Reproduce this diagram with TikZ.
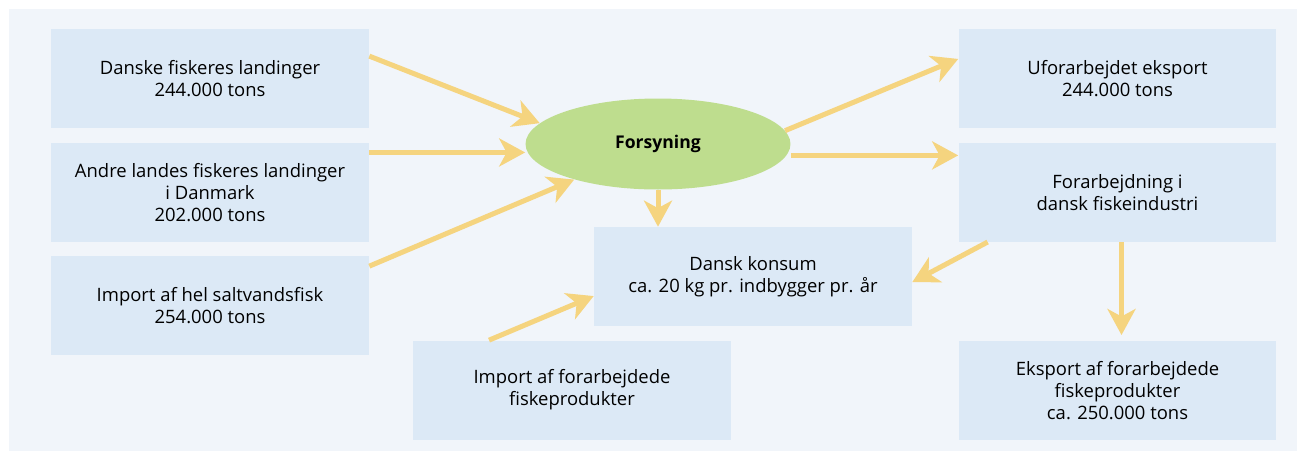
\documentclass[tikz,border=0pt]{standalone}
\usepackage{fontspec}
\setmainfont{Open Sans}
\usetikzlibrary{positioning,arrows.meta,shapes.geometric}
\definecolor{bggray}{HTML}{F1F5FA}
\definecolor{boxblue}{HTML}{DCE9F6}
\definecolor{ovalgreen}{HTML}{BEDD8E}
\definecolor{arrowyellow}{HTML}{F5D47F}
\tikzstyle{boxed} = [rectangle, fill=boxblue, minimum width=6.36cm, minimum height=1.98cm, inner sep=0pt, text centered, align=center, font=\fontsize{10.5}{12.5}\selectfont]
\tikzstyle{oval} = [ellipse, fill=ovalgreen, minimum width=5.3cm, minimum height=1.82cm, inner sep=0pt, font=\bfseries\fontsize{10}{12}\selectfont]
\tikzstyle{connect} = [line width=0.1cm, draw=arrowyellow, -{Stealth[length=0.52cm, width=0.56cm, inset=0.15cm]}]

\begin{document}
\begin{tikzpicture}[x=0.02cm, y=-0.02cm]
			\useasboundingbox (0,0) rectangle (1297,451);
			\fill[bggray] (9,9) rectangle (1297,451);

			\node (landed) [boxed] at (210,78.5) {Danske fiskeres landinger\\244.000 tons};
			\node (foreign) [boxed, below=0.28cm of landed] {Andre landes fiskeres landinger\\i Danmark\\202.000 tons};
			\node (import) [boxed, below=0.28cm of foreign] {Import af hel saltvandsfisk\\254.000 tons};
			\node (supply) [oval] at (658,144) {Forsyning};
			\node (consume) [boxed] at (753,276.5) {Dansk konsum\\ca. 20 kg pr. indbygger pr. år};
			\node (importproc) [boxed] at (572,390) {Import af forarbejdede\\fiskeprodukter};
			\node (rawexp) [boxed] at (1117.5,78.5) {Uforarbejdet eksport\\244.000 tons};
			\node (process) [boxed, below=0.28cm of rawexp] {Forarbejdning i\\dansk fiskeindustri};
			\node (procexp) [boxed, below=1.98cm of process] {Eksport af forarbejdede\\fiskeprodukter\\ca. 250.000 tons};

			\draw [connect] (landed.8) -- (supply.170);
			\draw [connect] (foreign.14) -- (foreign.14 -| supply.west);
			\draw [connect] (import.14) -- (supply.203);
			\draw [connect] (supply.south) -- (supply.south |- consume.north);
			\draw [connect] (supply.6) -- (rawexp.173);
			\draw [connect] (process.167 -| supply.east) -- (process.167);
			\draw [connect] (process.201) -- (consume.-2);
			\draw [connect, shorten >=0.12cm] ([xshift=0.08cm]process.south) -- ([xshift=0.08cm]procexp.north);
			\draw [connect] (importproc.149) -- (consume.187);
\end{tikzpicture}
\end{document}
